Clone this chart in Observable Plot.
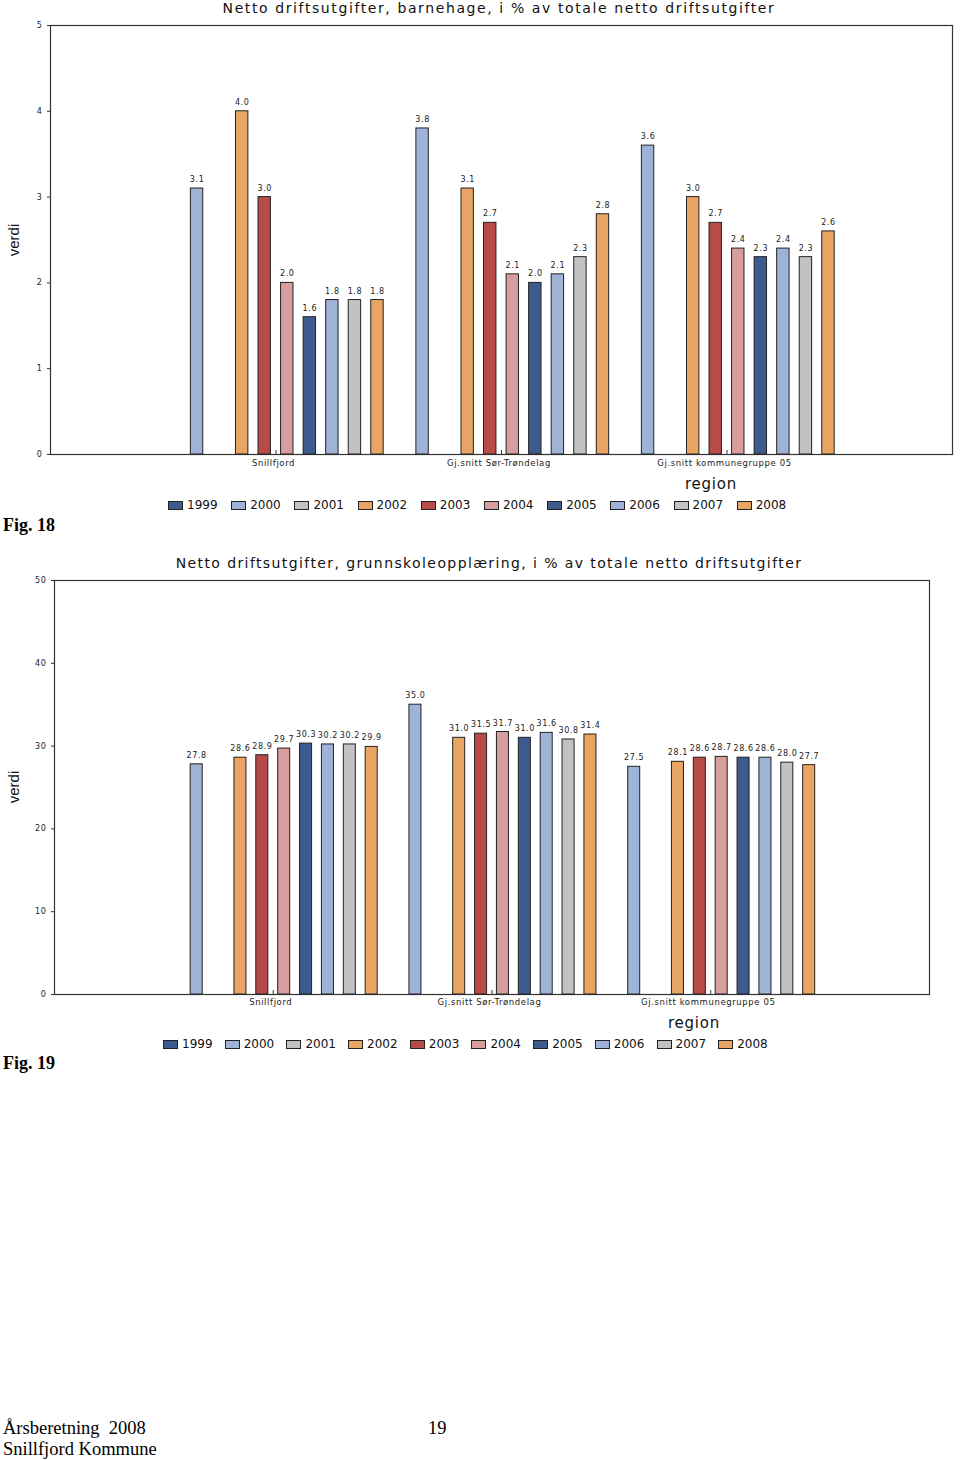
<!DOCTYPE html>
<html>
<head>
<meta charset="utf-8">
<script src="https://cdn.jsdelivr.net/npm/d3@7"></script>
<script src="https://cdn.jsdelivr.net/npm/@observablehq/plot@0.6"></script>
<style>
  html, body { margin: 0; padding: 0; background: #fff; }
  body { width: 960px; height: 1460px; position: relative; overflow: hidden; }
  .abs { position: absolute; white-space: pre; }
  .title { font-family: "DejaVu Sans", sans-serif; font-size: 14px; color: #111; transform: translate(-50%, -50%); letter-spacing: 1.4px; }
  .region { font-family: "DejaVu Sans", sans-serif; font-size: 15px; color: #111; transform: translate(-50%, -50%); letter-spacing: 0.8px; }
  .verdi { font-family: "Liberation Sans", sans-serif; font-size: 15px; color: #111; transform: translate(-50%, -50%) rotate(-90deg); }
  .fig { font-family: "Liberation Serif", serif; font-weight: bold; font-size: 18px; color: #000; transform: translateY(-50%); }
  .foot { font-family: "Liberation Serif", serif; font-size: 18.5px; color: #000; transform: translateY(-50%); }
  .legend { display: flex; transform: translateY(-50%); font-family: "DejaVu Sans", sans-serif; font-size: 12px; color: #111; }
  .legend .item { display: flex; align-items: center; }
  .legend .sw { width: 13px; height: 7px; border: 1px solid #222; margin-right: 4px; }
  svg.barchart text { letter-spacing: 0.6px; }
</style>
</head>
<body>
<script>
const years = ["1999","2000","2001","2002","2003","2004","2005","2006","2007","2008"];
const yearColors = ["#3e5b8d","#9fb3d9","#c2c2c2","#e9a563","#b84a48","#d89e9e","#3e5b8d","#9fb3d9","#c2c2c2","#e9a563"];
const regions = ["Snillfjord", "Gj.snitt Sør-Trøndelag", "Gj.snitt kommunegruppe 05"];

// Fig. 18: barnehage (null = no bar)
const barnehageSnillfjord   = [null, 3.1, null, 4.0, 3.0, 2.0, 1.6, 1.8, 1.8, 1.8];
const barnehageSorTrondelag = [null, 3.8, null, 3.1, 2.7, 2.1, 2.0, 2.1, 2.3, 2.8];
const barnehageKommunegr05  = [null, 3.6, null, 3.0, 2.7, 2.4, 2.3, 2.4, 2.3, 2.6];
const barnehageTicks = [0, 1, 2, 3, 4, 5];

// Fig. 19: grunnskoleopplæring
const grunnskoleSnillfjord   = [null, 27.8, null, 28.6, 28.9, 29.7, 30.3, 30.2, 30.2, 29.9];
const grunnskoleSorTrondelag = [null, 35.0, null, 31.0, 31.5, 31.7, 31.0, 31.6, 30.8, 31.4];
const grunnskoleKommunegr05  = [null, 27.5, null, 28.1, 28.6, 28.7, 28.6, 28.6, 28.0, 27.7];
const grunnskoleTicks = [0, 10, 20, 30, 40, 50];

const title1 = "Netto driftsutgifter, barnehage, i % av totale netto driftsutgifter";
const title2 = "Netto driftsutgifter, grunnskoleopplæring, i % av totale netto driftsutgifter";

const key = (r, y) => r + "|" + y;
const slotKeys = regions.flatMap(r => years.map(y => key(r, y)));

function rows(series) {
  const out = [];
  series.forEach((vals, ri) => vals.forEach((v, yi) => {
    if (v != null) out.push({region: regions[ri], year: years[yi], k: key(regions[ri], years[yi]), value: v});
  }));
  return out;
}

function addText(cls, text, x, y, ls) {
  const d = document.createElement("div");
  d.className = "abs " + cls;
  d.textContent = text;
  d.style.left = x + "px";
  d.style.top = y + "px";
  if (ls != null) d.style.letterSpacing = ls + "px";
  document.body.appendChild(d);
  return d;
}

function addLegend(x, y, itemW) {
  const d = document.createElement("div");
  d.className = "abs legend";
  d.style.left = x + "px";
  d.style.top = y + "px";
  years.forEach((yr, i) => {
    const it = document.createElement("div");
    it.className = "item";
    it.style.width = itemW + "px";
    const sw = document.createElement("div");
    sw.className = "sw";
    sw.style.background = yearColors[i];
    const t = document.createElement("span");
    t.textContent = yr;
    it.appendChild(sw); it.appendChild(t);
    d.appendChild(it);
  });
  document.body.appendChild(d);
}

function makeChart({series, ticks, top, height, mL, mR, mT, mB, labelDy}) {
  const data = rows(series);
  const ymax = ticks[ticks.length - 1];
  const innerH = height - mT - mB;
  const pInner = 0.45;
  // half a group (5 slots) of empty space on each side of the three groups
  const pOuter = (10 + pInner) / 2;
  const step = (960 - mL - mR) / (slotKeys.length + 10);
  const chart = Plot.plot({
    width: 960, height,
    marginLeft: mL, marginRight: mR, marginTop: mT, marginBottom: mB,
    className: "barchart",
    style: {fontFamily: "DejaVu Sans, sans-serif", background: "transparent", overflow: "visible"},
    x: {domain: slotKeys, paddingInner: pInner, paddingOuter: pOuter, round: false, axis: null},
    y: {domain: [0, ymax], label: null},
    color: {domain: years, range: yearColors},
    marks: [
      Plot.frame({stroke: "#333", strokeWidth: 1.2}),
      Plot.axisY({ticks, tickSize: 3, tickPadding: 5, fontSize: 8, tickFormat: d => d, stroke: "#333", fill: "#222", label: null}),
      // region labels and small centre ticks, between the 2003 and 2004 slots of each group
      Plot.ruleX(regions, {x: r => key(r, "2003"), dx: step / 2, insetTop: innerH - 4, stroke: "#333", strokeWidth: 1}),
      Plot.text(regions, {x: r => key(r, "2003"), dx: step / 2 - 2.5, text: r => r, frameAnchor: "bottom", dy: labelDy, fontSize: 8.5, fill: "#222"}),
      Plot.barY(data, {x: "k", y: "value", fill: "year", stroke: "#222", strokeWidth: 1}),
      Plot.text(data, {x: "k", y: "value", text: d => d.value.toFixed(1), dy: -9, fontSize: 8, fill: "#222"})
    ]
  });
  chart.style.position = "absolute";
  chart.style.left = "0px";
  chart.style.top = top + "px";
  document.body.appendChild(chart);
}

// Fig. 18
makeChart({series: [barnehageSnillfjord, barnehageSorTrondelag, barnehageKommunegr05], ticks: barnehageTicks,
  top: 0, height: 475, mL: 50, mR: 8, mT: 25, mB: 21, labelDy: 11});
addText("title", title1, 499, 8, 1.6);
addText("verdi", "verdi", 13, 240);
addText("region", "region", 711, 484);
addLegend(168, 505, 63.2);
addText("fig", "Fig. 18", 3, 525);

// Fig. 19
makeChart({series: [grunnskoleSnillfjord, grunnskoleSorTrondelag, grunnskoleKommunegr05], ticks: grunnskoleTicks,
  top: 555, height: 460, mL: 54, mR: 31, mT: 25, mB: 21, labelDy: 10});
addText("title", title2, 489, 563, 1.4);
addText("verdi", "verdi", 13, 787);
addText("region", "region", 694, 1023);
addLegend(163, 1044, 61.7);
addText("fig", "Fig. 19", 3, 1063);

// Footer
addText("foot", "Årsberetning  2008", 3, 1428);
addText("foot", "19", 428, 1428);
addText("foot", "Snillfjord Kommune", 3, 1449);
</script>
</body>
</html>
